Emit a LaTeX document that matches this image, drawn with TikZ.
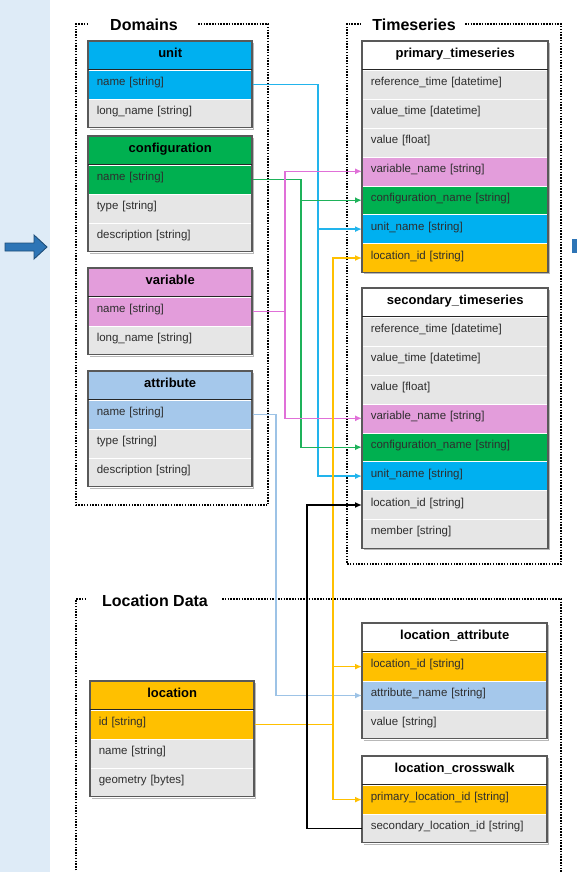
\documentclass[tikz,border=0pt]{standalone}
\usepackage{fontspec}
\setmainfont{Liberation Sans}
\usetikzlibrary{arrows.meta,calc}
\definecolor{unitc}{HTML}{00B0F0}
\definecolor{confc}{HTML}{00B050}
\definecolor{varc}{HTML}{E39DDB}
\definecolor{attc}{HTML}{A5C8EB}
\definecolor{locc}{HTML}{FFC000}
\definecolor{rowc}{HTML}{E6E6E6}
\definecolor{panelc}{HTML}{DEEBF7}
\definecolor{arrc}{HTML}{2E75B6}
\definecolor{arrd}{HTML}{1F4E79}
\definecolor{unitl}{HTML}{22B4EC}
\definecolor{confl}{HTML}{1EB25A}
\definecolor{varl}{HTML}{E070D8}
\definecolor{attl}{HTML}{9DC3E6}
\definecolor{locl}{HTML}{FFC000}
\tikzset{
  hdr/.style={anchor=north west, minimum height=28.9pt, inner sep=0pt,
    text height=9.5pt, text depth=6.5pt,
    font=\fontsize{13}{15}\selectfont\bfseries, text=black},
  fld/.style={draw=white, line width=.5pt, anchor=north west, minimum height=28.9pt,
    inner xsep=8.5pt, inner ysep=0pt, align=left, text height=8.5pt, text depth=6.5pt,
    font=\fontsize{11.5}{13}\selectfont, text=black!82},
  tborder/.style={draw=black!65, line width=1.1pt},
  grpbox/.style={draw=black, line width=2.3pt, dash pattern=on 1.5pt off 1.3pt},
  grplbl/.style={font=\fontsize{16}{18}\selectfont\bfseries, text=black, inner sep=0pt},
  conn/.style={line width=1.4pt, -{Latex[length=7pt,width=6pt]}},
}
\newcommand\mktable[8]{%
  \fill[black, opacity=.28] (#2+2.2,#3+2.2) rectangle ++(#4,{28.9*(#5+1)});
  \node[hdr, minimum width=#4pt, fill=#7] (#1) at (#2,#3) {#6};
  \pgfmathsetlengthmacro\tw{#4pt-17pt}
  \foreach \t/\c [count=\i] in {#8} {
    \node[fld, text width=\tw, fill=\c] (#1-\i) at (#2,{#3+28.9*\i}) {\t};
  }
  \draw[tborder] (#2,#3) rectangle ++(#4,{28.9*(#5+1)});
  \draw[black!85, line width=.9pt] (#2,#3+28.9) -- ++(#4,0);
}
\begin{document}
\begin{tikzpicture}[x=1pt,y=-1pt]
\useasboundingbox (0,0) rectangle (577,872);
\clip (0,0) rectangle (577,872);
% left panel and arrows
\fill[panelc] (0,0) rectangle (50,872);
\draw[arrd, fill=arrc, line width=.9pt] (5,243) -- (34,243) -- (34,235) -- (47,247) -- (34,259) -- (34,251) -- (5,251) -- cycle;
\fill[arrc] (572,239) rectangle (578,253);
% group boxes
\draw[grpbox] (198,24) -- (268,24) -- (268,505) -- (76,505) -- (76,24) -- (87,24);
\node[grplbl] (domlbl) at (144,24.5) {Domains};
\draw[grpbox] (465,24) -- (561,24) -- (561,564) -- (347,564) -- (347,24) -- (360,24);
\node[grplbl] (tslbl) at (414,24.5) {Timeseries};
\draw[grpbox] (222,599) -- (561,599) -- (561,890) (76,890) -- (76,599) -- (87,599);
\node[grplbl] (ldlbl) at (155,600.5) {Location Data};
% tables
\mktable{unit}{88}{41}{164}{2}{unit}{unitc}{name [string]/unitc,long\_name [string]/rowc}
\mktable{conf}{88}{136}{164}{3}{configuration}{confc}{name [string]/confc,type [string]/rowc,description [string]/rowc}
\mktable{var}{88}{268}{164}{2}{variable}{varc}{name [string]/varc,long\_name [string]/rowc}
\mktable{att}{88}{371}{164}{3}{attribute}{attc}{name [string]/attc,type [string]/rowc,description [string]/rowc}
\mktable{pts}{362}{41}{186}{7}{primary\_timeseries}{white}{reference\_time [datetime]/rowc,value\_time [datetime]/rowc,value [float]/rowc,variable\_name [string]/varc,configuration\_name [string]/confc,unit\_name [string]/unitc,location\_id [string]/locc}
\mktable{sts}{362}{288}{186}{8}{secondary\_timeseries}{white}{reference\_time [datetime]/rowc,value\_time [datetime]/rowc,value [float]/rowc,variable\_name [string]/varc,configuration\_name [string]/confc,unit\_name [string]/unitc,location\_id [string]/rowc,member [string]/rowc}
\mktable{loc}{90}{681}{164}{3}{location}{locc}{id [string]/locc,name [string]/rowc,geometry [bytes]/rowc}
\mktable{la}{362}{623}{185}{3}{location\_attribute}{white}{location\_id [string]/locc,attribute\_name [string]/attc,value [string]/rowc}
\mktable{lc}{362}{756}{185}{2}{location\_crosswalk}{white}{primary\_location\_id [string]/locc,secondary\_location\_id [string]/rowc}
% connector columns
\coordinate (xu) at (318,0);
\coordinate (xc) at (301,0);
\coordinate (xv) at (285,0);
\coordinate (xa) at (276,0);
\coordinate (xo) at (333,0);
\coordinate (xb) at (307,0);
% connectors
\draw[conn, unitl] (unit-1.east) -- (unit-1.east -| xu) |- (pts-6.west);
\draw[conn, unitl] (unit-1.east) -- (unit-1.east -| xu) |- (sts-6.west);
\draw[conn, confl] (conf-1.east) -- (conf-1.east -| xc) |- (pts-5.west);
\draw[conn, confl] (conf-1.east) -- (conf-1.east -| xc) |- (sts-5.west);
\draw[conn, varl] (var-1.east) -- (var-1.east -| xv) |- (pts-4.west);
\draw[conn, varl] (var-1.east) -- (var-1.east -| xv) |- (sts-4.west);
\draw[conn, attl] (att-1.east) -- (att-1.east -| xa) |- (la-2.west);
\draw[conn, locl] (loc-1.east) -- (loc-1.east -| xo) |- (pts-7.west);
\draw[conn, locl] (loc-1.east) -- (loc-1.east -| xo) |- (la-1.west);
\draw[conn, locl] (loc-1.east) -- (loc-1.east -| xo) |- (lc-1.west);
\draw[conn, black] (lc-2.west) -- (lc-2.west -| xb) |- (sts-7.west);
\end{tikzpicture}
\end{document}
